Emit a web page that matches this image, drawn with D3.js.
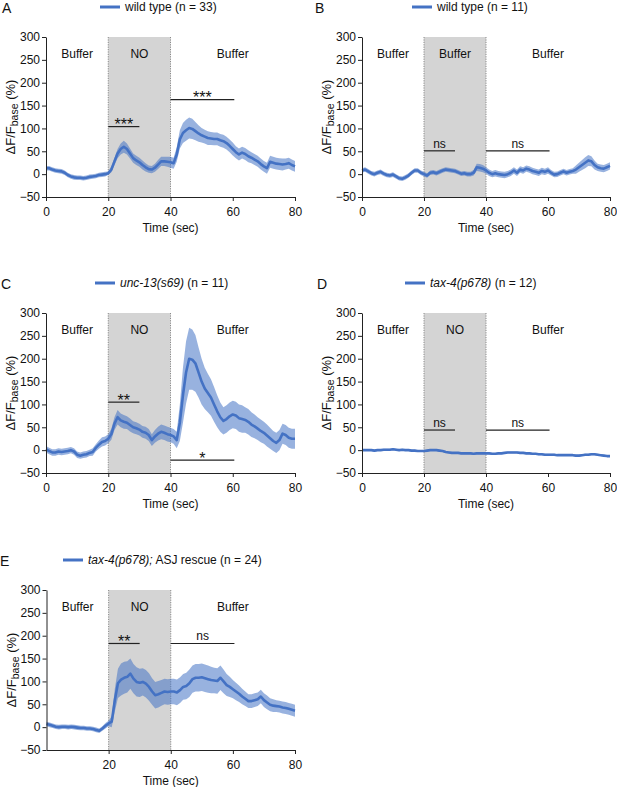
<!DOCTYPE html>
<html><head><meta charset="utf-8">
<script src="https://cdn.jsdelivr.net/npm/d3@7"></script>
<style>
body{margin:0;background:#fff}
svg{display:block}
text{font-family:"Liberation Sans",Arial,Helvetica,sans-serif}
</style>
</head><body>
<svg id="chart" width="617" height="787"></svg>
<script>
// ---------- data ----------
const time = [0,1,2,3,4,5,6,7,8,9,10,11,12,13,14,15,16,17,18,19,20,21,22,23,24,25,26,27,28,29,30,31,32,33,34,35,36,37,38,39,40,41,42,43,44,45,46,47,48,49,50,51,52,53,54,55,56,57,58,59,60,61,62,63,64,65,66,67,68,69,70,71,72,73,74,75,76,77,78,79,80];

const meanA = [13,13,10,8,7,6,3,-2,-5,-7,
  -8,-8,-9,-8,-6,-5,-4,-2,-1,0,
  2,10,28,45,55,60,55,45,35,30,
  26,20,15,11,10,14,21,28,28,27,
  26,24,43,76,90,96,101,99,94,89,
  85,82,79,78,77,77,74,72,68,62,
  55,48,43,47,44,39,36,32,28,22,
  17,13,27,25,23,22,21,22,24,20,
  17];
const semA = [5,5,5,5,5,5,5,5,5,5,
  5,5,5,5,5,5,5,5,5,5,
  4,6,8,10,12,13,12,11,10,10,
  10,10,9,8,8,9,10,10,10,11,
  12,12,16,20,22,23,23,22,20,18,
  16,15,15,14,14,14,14,14,14,14,
  14,13,13,13,13,13,12,12,12,12,
  12,12,13,13,13,13,13,12,12,12,
  12];

const meanB = [8,10,6,2,0,3,5,1,-2,-3,
  -1,-5,-9,-10,-7,-3,3,8,8,3,
  0,-3,3,4,2,5,8,10,9,8,
  7,4,1,2,0,0,3,15,14,12,
  8,3,0,2,0,-1,-2,0,3,8,
  3,10,8,12,10,7,5,3,7,5,
  8,3,-1,0,3,6,3,5,7,10,
  15,20,25,30,28,20,15,13,12,15,
  18];
const semB = [5,5,5,5,5,5,5,5,5,5,
  5,5,5,5,5,5,5,5,5,5,
  5,5,5,5,5,5,5,5,5,5,
  5,5,5,5,5,5,6,8,8,8,
  7,7,7,7,7,7,7,7,7,7,
  7,7,7,7,7,7,7,7,7,7,
  7,6,6,6,6,6,6,6,6,9,
  10,11,12,12,11,10,8,8,8,8,
  8];

const meanC = [2,-2,-5,-5,-3,-4,-3,-2,0,-3,
  -10,-12,-10,-9,-6,-4,5,12,18,20,
  25,35,58,72,65,62,60,55,50,48,
  45,40,38,33,22,30,36,40,38,35,
  33,30,22,60,120,170,200,198,190,170,
  150,135,125,115,100,85,72,64,68,74,
  78,76,70,68,66,62,56,52,47,42,
  38,32,26,20,16,22,36,33,27,25,
  25];
const semC = [7,7,7,7,7,7,7,7,7,7,
  7,7,7,7,7,8,8,9,10,10,
  10,12,14,16,15,15,14,14,13,13,
  13,13,13,13,13,14,15,16,16,16,
  16,16,18,40,60,68,68,66,62,55,
  50,45,42,40,38,35,32,30,30,30,
  30,30,30,30,28,28,27,26,25,25,
  24,24,23,22,22,22,22,22,22,22,
  22];

const meanD = [0,0,0,0,-1,0,0,1,1,1,
  2,1,0,1,0,0,-1,-1,-2,-2,
  -2,-1,0,0,0,-1,-2,-4,-5,-6,
  -6,-6,-7,-7,-7,-7,-8,-7,-7,-7,
  -7,-7,-8,-8,-7,-7,-6,-5,-5,-5,
  -5,-6,-6,-7,-7,-8,-8,-9,-9,-10,
  -10,-10,-10,-11,-11,-11,-11,-11,-11,-12,
  -12,-11,-10,-10,-9,-9,-10,-11,-12,-13,
  -13];
const semD = [2,2,2,2,2,2,2,2,2,2,
  2,2,2,2,2,2,2,2,2,2,
  2,2,2,2,2,2,2,2,2,2,
  2,2,2,2,2,2,2,2,2,2,
  2,2,2,2,2,2,2,2,2,2,
  2,2,2,2,2,2,2,2,2,2,
  2,2,2,2,2,2,2,2,2,2,
  2,2,2,2,2,2,2,2,2,2,
  2];

const meanE = [7,5,3,1,0,1,1,0,1,0,
  -1,-2,-2,-3,-3,-4,-6,-8,-3,3,
  8,12,59,96,104,108,110,117,106,99,
  97,99,95,88,78,70,72,75,78,77,
  78,78,76,81,88,90,96,105,108,108,
  109,107,105,103,102,101,108,100,92,88,
  83,78,73,67,62,57,57,59,61,67,
  59,54,49,47,46,45,43,42,40,38,
  36];
const semE = [5,5,5,5,5,5,5,5,5,5,
  5,5,5,5,5,5,5,5,5,6,
  6,12,25,32,35,35,34,33,32,32,
  31,30,30,30,29,29,29,28,28,28,
  28,28,28,28,28,29,30,30,30,30,
  30,30,30,29,28,28,27,26,24,22,
  20,19,18,17,16,15,15,15,15,15,
  15,15,14,14,13,13,13,13,13,13,
  13];

const yTicks = [-50,0,50,100,150,200,250,300];
const xTicksFull = [0,20,40,60,80];
const xTicksE = [20,40,60,80];

const regionsNO = ["Buffer","NO","Buffer"];
const regionsBuf = ["Buffer","Buffer","Buffer"];
const regionCenters = [10,30,60];

// significance annotations: [from, to, yValue, label]
const sigA = [[20,30,104,"***"],[40,60.5,163,"***"]];
const sigB = [[20,30,51,"ns"],[40,60.5,51,"ns"]];
const sigC = [[20,30,105,"**"],[40,60.5,-22,"*"]];
const sigD = [[20,30,44,"ns"],[40,60.5,44,"ns"]];
const sigE = [[20,30,183,"**"],[40,60.5,183,"ns"]];

const legendA = [["wild type",false],[" (n = 33)",false]];
const legendB = [["wild type",false],[" (n = 11)",false]];
const legendC = [["unc-13(s69)",true],[" (n = 11)",false]];
const legendD = [["tax-4(p678)",true],[" (n = 12)",false]];
const legendE = [["tax-4(p678);",true],[" ASJ rescue (n = 24)",false]];

// ---------- layout ----------
const panels = [
  {letter:"A", mean:meanA, sem:semA, regions:regionsNO, sig:sigA, legend:legendA, xt:xTicksFull,
   x0:46, x1:295, y0:37, y1:197, lx:100, letX:2},
  {letter:"B", mean:meanB, sem:semB, regions:regionsBuf, sig:sigB, legend:legendB, xt:xTicksFull,
   x0:362, x1:610, y0:37, y1:197, lx:412, letX:315},
  {letter:"C", mean:meanC, sem:semC, regions:regionsNO, sig:sigC, legend:legendC, xt:xTicksFull,
   x0:46, x1:295, y0:313, y1:473, lx:95, letX:1},
  {letter:"D", mean:meanD, sem:semD, regions:regionsNO, sig:sigD, legend:legendD, xt:xTicksFull,
   x0:362, x1:610, y0:313, y1:473, lx:405, letX:317},
  {letter:"E", mean:meanE, sem:semE, regions:regionsNO, sig:sigE, legend:legendE, xt:xTicksE,
   x0:46.5, x1:295, y0:590, y1:750, lx:63, letX:0}
];

const blue = "#4472c4";
const svg = d3.select("#chart");

panels.forEach(p => {
  const g = svg.append("g");
  const x = d3.scaleLinear().domain([0,80]).range([p.x0,p.x1]);
  const y = d3.scaleLinear().domain([-50,300]).range([p.y1,p.y0]);

  // shaded stimulus window
  g.append("rect").attr("x",x(20)).attr("y",y(300)).attr("width",x(40)-x(20)).attr("height",y(-50)-y(300))
    .attr("fill","#d4d4d4");
  [20,40].forEach(t => g.append("line").attr("x1",x(t)).attr("x2",x(t)).attr("y1",y(300)).attr("y2",y(-50))
    .attr("stroke","#8a8a8a").attr("stroke-width",1).attr("stroke-dasharray","1.2,1.2"));

  // region labels
  p.regions.forEach((r,i) => g.append("text").attr("x",x(regionCenters[i])).attr("y",p.y0+21)
    .attr("text-anchor","middle").attr("font-size",12).attr("fill","#111").text(r));

  // SEM band + mean line
  const pts = time.map((t,i)=>({t, m:p.mean[i], s:p.sem[i]}));
  g.append("path").datum(pts)
    .attr("d", d3.area().x(d=>x(d.t)).y0(d=>y(d.m-d.s)).y1(d=>y(d.m+d.s)).curve(d3.curveLinear))
    .attr("fill", blue).attr("fill-opacity",0.55);
  g.append("path").datum(pts)
    .attr("d", d3.line().x(d=>x(d.t)).y(d=>y(d.m)).curve(d3.curveLinear))
    .attr("fill","none").attr("stroke",blue).attr("stroke-width",2.6).attr("stroke-linejoin","round");

  // significance bars
  p.sig.forEach(s => {
    g.append("line").attr("x1",x(s[0])).attr("x2",x(s[1])).attr("y1",y(s[2])).attr("y2",y(s[2]))
      .attr("stroke","#222").attr("stroke-width",1.2);
    const isStar = s[3].indexOf("*")>=0;
    g.append("text").attr("x",(x(s[0])+x(s[1]))/2).attr("y", isStar ? y(s[2])+3.5 : y(s[2])-3)
      .attr("text-anchor","middle").attr("font-size", isStar?16:12).attr("fill","#111").text(s[3]);
  });

  // axes
  const ya = g.append("g").attr("transform",`translate(${p.x0},0)`)
    .call(d3.axisLeft(y).tickValues(yTicks).tickSize(4).tickSizeOuter(0).tickPadding(2));
  const xa = g.append("g").attr("transform",`translate(0,${p.y1})`)
    .call(d3.axisBottom(x).tickValues(p.xt).tickSize(4).tickSizeOuter(0).tickPadding(6));
  [ya,xa].forEach(a => {
    a.selectAll("text").attr("font-size",12).attr("fill","#111").attr("font-family",null);
    a.selectAll("path,line").attr("stroke","#222");
    a.attr("font-family",null).attr("font-size",null);
  });

  // axis titles
  const yt = g.append("text").attr("transform",`translate(${p.x0-31},${(p.y0+p.y1)/2}) rotate(-90)`)
    .attr("text-anchor","middle").attr("font-size",13).attr("fill","#111");
  yt.append("tspan").text("ΔF/F");
  yt.append("tspan").attr("font-size",10.5).attr("dy",3).text("base");
  yt.append("tspan").attr("dy",-3).text(" (%)");
  g.append("text").attr("x",(p.x0+p.x1)/2).attr("y",p.y1+35).attr("text-anchor","middle")
    .attr("font-size",12).attr("fill","#111").text("Time (sec)");

  // legend
  const ly = p.y0-30;
  g.append("line").attr("x1",p.lx).attr("x2",p.lx+20).attr("y1",ly).attr("y2",ly)
    .attr("stroke",blue).attr("stroke-width",3);
  const lt = g.append("text").attr("x",p.lx+25).attr("y",ly+4).attr("font-size",12).attr("fill","#111");
  p.legend.forEach(seg => lt.append("tspan").attr("font-style",seg[1]?"italic":"normal").text(seg[0]));

  // panel letter
  g.append("text").attr("x",p.letX).attr("y",p.y0-24).attr("font-size",14).attr("fill","#111").text(p.letter);
});
</script>
</body></html>
